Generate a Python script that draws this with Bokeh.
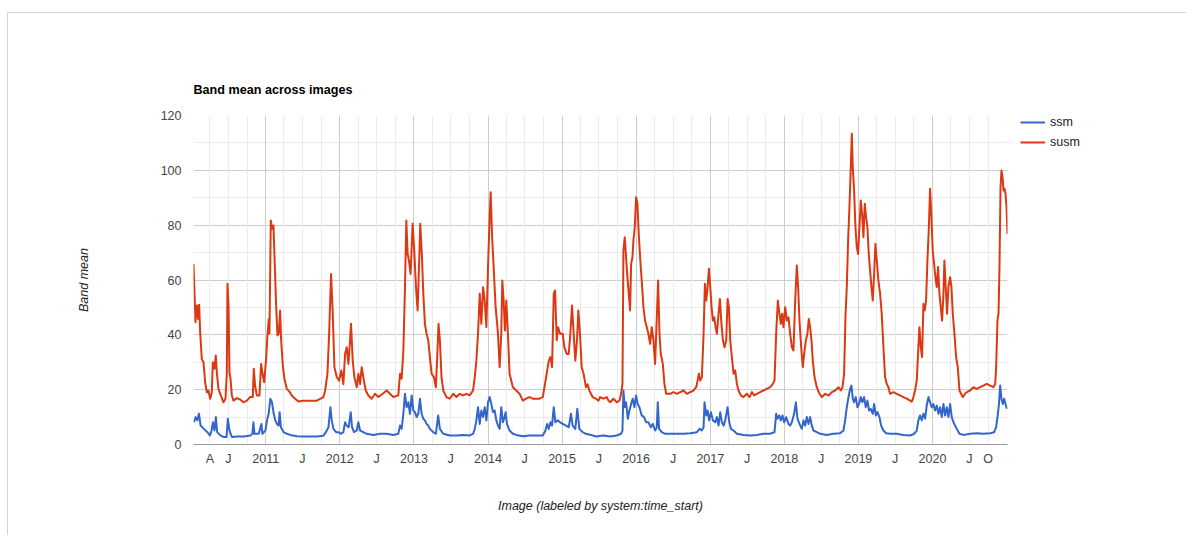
import datetime as dt
from bokeh.plotting import figure
from bokeh.models import (FixedTicker, Grid, Legend, LegendItem, Range1d,
                          ColumnDataSource)
from bokeh.embed import file_html
from bokeh.resources import INLINE

# ---------------- data (decimal years, band means) ----------------
susm_t = [
    2010.025, 2010.052, 2010.070, 2010.088, 2010.101, 2010.115, 2010.137, 2010.160, 2010.182, 2010.205,
    2010.227, 2010.250, 2010.272, 2010.286, 2010.308, 2010.326, 2010.340, 2010.362, 2010.394, 2010.430,
    2010.457, 2010.475, 2010.484, 2010.498, 2010.511, 2010.525, 2010.543, 2010.565, 2010.610, 2010.655,
    2010.700, 2010.745, 2010.790, 2010.826, 2010.839, 2010.857, 2010.880, 2010.916, 2010.938, 2010.961,
    2010.979, 2011.006, 2011.024, 2011.042, 2011.051, 2011.069, 2011.087, 2011.105, 2011.123, 2011.141,
    2011.159, 2011.177, 2011.195, 2011.208, 2011.231, 2011.253, 2011.285, 2011.321, 2011.352, 2011.397,
    2011.442, 2011.510, 2011.600, 2011.690, 2011.780,
    2011.803, 2011.834, 2011.857, 2011.883, 2011.906, 2011.928, 2011.960, 2011.991, 2012.022, 2012.049,
    2012.072, 2012.094, 2012.117, 2012.139, 2012.152, 2012.175, 2012.197, 2012.229, 2012.251, 2012.274,
    2012.296, 2012.318, 2012.350, 2012.386, 2012.430, 2012.475, 2012.520, 2012.587, 2012.632, 2012.677,
    2012.722, 2012.789, 2012.812, 2012.834, 2012.857, 2012.879, 2012.897, 2012.915, 2012.933, 2012.955,
    2012.982, 2013.004, 2013.027, 2013.049, 2013.072, 2013.085, 2013.108, 2013.126, 2013.148, 2013.170,
    2013.193, 2013.215, 2013.238, 2013.269, 2013.296, 2013.314, 2013.332, 2013.350, 2013.372, 2013.395,
    2013.439, 2013.484, 2013.529, 2013.574, 2013.619, 2013.664, 2013.709, 2013.753, 2013.798, 2013.821,
    2013.843, 2013.865, 2013.888, 2013.910, 2013.933, 2013.955, 2013.978, 2014.000, 2014.022, 2014.036,
    2014.054, 2014.076, 2014.103, 2014.135, 2014.157, 2014.179, 2014.193, 2014.211, 2014.229, 2014.247,
    2014.269, 2014.291, 2014.336, 2014.381, 2014.426, 2014.471, 2014.516, 2014.561, 2014.605, 2014.650,
    2014.695, 2014.740, 2014.785, 2014.821, 2014.843, 2014.865, 2014.888, 2014.906, 2014.928, 2014.946,
    2014.973, 2015.009, 2015.031, 2015.063, 2015.090, 2015.112, 2015.135, 2015.157, 2015.179, 2015.202,
    2015.220, 2015.242, 2015.265, 2015.291, 2015.323, 2015.345, 2015.368, 2015.413, 2015.457, 2015.493,
    2015.514, 2015.559, 2015.604, 2015.627, 2015.649, 2015.694, 2015.739, 2015.775, 2015.798, 2015.816,
    2015.829, 2015.847, 2015.865, 2015.883, 2015.901, 2015.919, 2015.933, 2015.951, 2015.964, 2015.982,
    2016.000, 2016.018, 2016.036, 2016.054, 2016.076, 2016.099, 2016.121, 2016.144, 2016.166, 2016.189,
    2016.211, 2016.234, 2016.256, 2016.279, 2016.297, 2016.315, 2016.333, 2016.360, 2016.382, 2016.405,
    2016.459, 2016.504, 2016.549, 2016.594, 2016.639, 2016.684, 2016.729, 2016.774, 2016.810, 2016.828,
    2016.846, 2016.864, 2016.886, 2016.909, 2016.927, 2016.945, 2016.963, 2016.981, 2016.999, 2017.017,
    2017.035, 2017.053, 2017.071, 2017.089, 2017.111, 2017.129, 2017.147, 2017.170, 2017.192, 2017.215,
    2017.233, 2017.251, 2017.269, 2017.291, 2017.314, 2017.336, 2017.359, 2017.381, 2017.412, 2017.448,
    2017.493, 2017.529, 2017.561, 2017.592, 2017.628, 2017.673, 2017.718, 2017.763, 2017.808, 2017.844,
    2017.867, 2017.889, 2017.912, 2017.934, 2017.952, 2017.970, 2017.988, 2018.011, 2018.033, 2018.056,
    2018.078, 2018.101, 2018.123, 2018.146, 2018.168, 2018.186, 2018.204, 2018.227, 2018.249, 2018.267,
    2018.290, 2018.312, 2018.330, 2018.348, 2018.366, 2018.384, 2018.407, 2018.438, 2018.474, 2018.506,
    2018.551, 2018.596, 2018.641, 2018.686, 2018.731, 2018.762, 2018.785, 2018.807, 2018.825, 2018.843,
    2018.861, 2018.879, 2018.897, 2018.911, 2018.924, 2018.942, 2018.960, 2018.978, 2018.996, 2019.014,
    2019.032, 2019.050, 2019.068, 2019.086, 2019.104, 2019.122, 2019.140, 2019.158, 2019.176, 2019.194,
    2019.212, 2019.230, 2019.248, 2019.270, 2019.293, 2019.315, 2019.338, 2019.360, 2019.383, 2019.405,
    2019.428, 2019.473, 2019.518, 2019.563, 2019.608, 2019.653, 2019.698, 2019.720, 2019.743, 2019.765,
    2019.788, 2019.810, 2019.824, 2019.842, 2019.860, 2019.878, 2019.896, 2019.914, 2019.932, 2019.950,
    2019.968, 2019.986, 2020.004, 2020.022, 2020.040, 2020.058, 2020.076, 2020.094, 2020.112, 2020.130,
    2020.148, 2020.161, 2020.179, 2020.197, 2020.215, 2020.238, 2020.256, 2020.274, 2020.296, 2020.319,
    2020.341, 2020.364, 2020.386, 2020.408, 2020.440, 2020.462, 2020.507, 2020.552, 2020.597, 2020.642,
    2020.687, 2020.732, 2020.777, 2020.822, 2020.845, 2020.858, 2020.876, 2020.890, 2020.903, 2020.917,
    2020.930, 2020.944, 2020.957, 2020.971, 2020.984, 2020.998, 2021.011,
]
susm = [
    65.9, 44.6, 50.7, 45.8, 51.0, 41.0, 31.2, 30.0, 22.7, 19.0,
    19.7, 16.7, 19.0, 30.0, 27.6, 32.5, 26.4, 20.3, 17.9, 15.4,
    16.7, 26.0, 58.6, 50.7, 26.4, 24.0, 17.9, 16.0, 16.9, 16.4,
    15.4, 16.0, 17.3, 17.3, 27.6, 21.5, 17.9, 17.9, 29.4, 25.2,
    22.7, 31.2, 39.8, 45.8, 40.5, 81.7, 78.7, 79.9, 65.3, 50.7,
    39.8, 40.5, 48.9, 38.5, 28.8, 24.0, 20.3, 19.3, 17.9, 16.7,
    15.7, 16.0, 16.0, 16.0, 17.3,
    19.7, 25.8, 40.4, 62.2, 47.7, 28.2, 24.6, 23.3, 27.0, 22.0,
    33.0, 35.5, 29.4, 38.0, 44.0, 30.6, 24.6, 20.9, 25.8, 22.0,
    28.2, 24.6, 19.7, 17.9, 16.7, 18.5, 17.3, 18.7, 19.7, 18.5,
    17.3, 17.9, 25.8, 24.0, 34.0, 57.4, 81.7, 69.5, 67.0, 62.2,
    80.5, 70.8, 57.4, 48.9, 68.3, 80.5, 68.3, 55.0, 44.0, 40.4,
    38.0, 31.9, 25.8, 24.6, 20.9, 31.9, 44.0, 38.0, 24.6, 19.7,
    17.3, 16.7, 18.5, 17.3, 18.5, 17.9, 18.5, 17.9, 19.7, 24.6,
    30.6, 40.4, 55.0, 44.0, 57.4, 52.5, 42.8, 64.7, 82.9, 92.0,
    76.8, 64.7, 50.0, 40.4, 28.2, 40.4, 59.8, 52.5, 41.6, 52.5,
    40.4, 25.8, 20.9, 19.7, 18.5, 16.0, 16.7, 17.3, 16.7, 16.7,
    16.7, 17.3, 24.6, 30.6, 31.9, 28.2, 55.0, 56.2, 38.0, 42.8,
    40.4, 40.4, 35.5, 33.0, 33.0, 40.4, 50.7, 40.4, 30.6, 38.0,
    48.9, 40.4, 28.2, 25.8, 20.9, 22.0, 19.7, 17.3, 16.7, 16.0,
    17.3, 16.7, 17.3, 16.0, 15.4, 16.7, 15.4, 16.0, 18.5, 22.1,
    70.8, 75.6, 68.3, 61.0, 55.0, 48.9, 65.9, 68.3, 74.4, 79.3,
    90.2, 87.8, 76.8, 68.3, 59.8, 50.1, 45.2, 42.8, 40.4, 36.7,
    42.8, 38.0, 29.4, 46.4, 59.8, 40.4, 33.0, 29.4, 22.1, 18.5,
    18.5, 19.1, 18.5, 19.1, 19.7, 18.5, 19.1, 19.7, 20.9, 23.3,
    25.8, 23.3, 24.6, 40.4, 58.6, 52.5, 57.4, 64.1, 57.4, 50.1,
    45.2, 46.4, 42.8, 40.4, 47.7, 53.1, 45.2, 38.0, 35.5, 38.0,
    53.1, 50.1, 38.0, 31.9, 25.8, 27.0, 22.1, 19.7, 17.9, 17.3,
    18.5, 17.3, 19.1, 17.9, 18.5, 19.1, 19.7, 20.3, 20.9, 22.1,
    23.3, 40.4, 52.5, 47.7, 44.0, 47.7, 42.8, 50.1, 45.2, 46.4,
    40.4, 35.5, 34.3, 52.5, 65.3, 57.4, 45.2, 35.5, 28.2, 33.0,
    38.0, 40.4, 45.8, 42.8, 38.0, 30.6, 24.6, 20.9, 18.5, 17.3,
    18.5, 17.9, 19.1, 19.7, 20.9, 19.7, 20.9, 25.8, 46.4, 57.4,
    74.4, 86.6, 101.0, 113.3, 101.0, 92.6, 79.3, 72.0, 69.5, 79.3,
    89.0, 84.1, 75.6, 87.8, 82.9, 79.3, 69.5, 63.5, 57.4, 52.5,
    62.2, 73.2, 67.1, 59.8, 55.0, 47.7, 35.5, 24.6, 22.1, 20.9,
    18.5, 19.1, 18.5, 17.9, 17.3, 16.7, 16.0, 15.6, 17.3, 19.7,
    23.3, 35.5, 42.8, 35.5, 31.9, 51.3, 48.9, 52.5, 67.1, 78.0,
    93.3, 82.9, 70.8, 65.9, 61.0, 57.4, 64.7, 55.0, 50.1, 45.2,
    55.0, 67.1, 57.4, 47.7, 57.4, 61.0, 57.4, 47.7, 40.4, 31.9,
    28.2, 19.7, 18.5, 17.3, 18.5, 19.1, 19.7, 20.9, 20.3, 20.9,
    21.5, 22.1, 21.5, 20.9, 22.1, 28.2, 45.2, 47.7, 64.7, 93.9,
    99.9, 97.5, 92.6, 93.3, 91.4, 86.6, 76.8,
]

ssm_t = [
    2010.031, 2010.054, 2010.076, 2010.099, 2010.121, 2010.166, 2010.211, 2010.247, 2010.269, 2010.287,
    2010.309, 2010.327, 2010.345, 2010.390, 2010.435, 2010.471, 2010.489, 2010.507, 2010.525, 2010.547,
    2010.614, 2010.704, 2010.794, 2010.821, 2010.834, 2010.848, 2010.906, 2010.942, 2010.955, 2010.996,
    2011.018, 2011.040, 2011.063, 2011.085, 2011.108, 2011.130, 2011.152, 2011.175, 2011.188, 2011.206,
    2011.242, 2011.287, 2011.332, 2011.422, 2011.511, 2011.601, 2011.691, 2011.780, 2011.812, 2011.848,
    2011.874, 2011.892, 2011.915, 2011.951, 2011.982, 2012.013, 2012.049, 2012.072, 2012.094, 2012.121,
    2012.148, 2012.166, 2012.193, 2012.229, 2012.251, 2012.274, 2012.318, 2012.363, 2012.453, 2012.543,
    2012.632, 2012.722, 2012.789, 2012.812, 2012.834, 2012.857, 2012.879, 2012.901, 2012.924, 2012.946,
    2012.969, 2012.991, 2013.013, 2013.036, 2013.058, 2013.081, 2013.103, 2013.126, 2013.148, 2013.170,
    2013.193, 2013.215, 2013.260, 2013.296, 2013.327, 2013.350, 2013.395, 2013.484, 2013.574, 2013.664,
    2013.753, 2013.798, 2013.821, 2013.843, 2013.865, 2013.888, 2013.910, 2013.933, 2013.955, 2013.978,
    2014.000, 2014.022, 2014.045, 2014.067, 2014.090, 2014.112, 2014.135, 2014.157, 2014.179, 2014.202,
    2014.224, 2014.238, 2014.256, 2014.291, 2014.336, 2014.381, 2014.471, 2014.561, 2014.650, 2014.740,
    2014.776, 2014.798, 2014.821, 2014.843, 2014.865, 2014.888, 2014.910, 2014.942, 2014.973, 2015.009,
    2015.054, 2015.090, 2015.121, 2015.143, 2015.179, 2015.206, 2015.233, 2015.278, 2015.323, 2015.390,
    2015.457, 2015.559, 2015.649, 2015.739, 2015.798, 2015.816, 2015.829, 2015.847, 2015.865, 2015.888,
    2015.910, 2015.933, 2015.955, 2015.978, 2016.000, 2016.022, 2016.045, 2016.076, 2016.108, 2016.135,
    2016.166, 2016.198, 2016.225, 2016.256, 2016.279, 2016.292, 2016.310, 2016.346, 2016.391, 2016.459,
    2016.549, 2016.639, 2016.729, 2016.819, 2016.855, 2016.886, 2016.909, 2016.922, 2016.945, 2016.963,
    2016.985, 2017.008, 2017.035, 2017.066, 2017.089, 2017.111, 2017.134, 2017.156, 2017.179, 2017.201,
    2017.233, 2017.256, 2017.278, 2017.314, 2017.359, 2017.448, 2017.538, 2017.628, 2017.718, 2017.808,
    2017.867, 2017.889, 2017.907, 2017.930, 2017.952, 2017.975, 2017.997, 2018.024, 2018.056, 2018.078,
    2018.101, 2018.132, 2018.155, 2018.177, 2018.204, 2018.236, 2018.258, 2018.281, 2018.303, 2018.326,
    2018.348, 2018.371, 2018.393, 2018.438, 2018.483, 2018.573, 2018.663, 2018.753, 2018.798, 2018.821,
    2018.843, 2018.866, 2018.888, 2018.906, 2018.924, 2018.942, 2018.964, 2018.987, 2019.009, 2019.032,
    2019.054, 2019.077, 2019.099, 2019.122, 2019.144, 2019.167, 2019.194, 2019.212, 2019.235, 2019.257,
    2019.284, 2019.307, 2019.338, 2019.374, 2019.428, 2019.518, 2019.608, 2019.698, 2019.752, 2019.788,
    2019.810, 2019.833, 2019.855, 2019.878, 2019.901, 2019.923, 2019.946, 2019.968, 2019.990, 2020.013,
    2020.035, 2020.058, 2020.081, 2020.103, 2020.126, 2020.148, 2020.170, 2020.193, 2020.215, 2020.238,
    2020.260, 2020.283, 2020.305, 2020.328, 2020.364, 2020.418, 2020.507, 2020.597, 2020.687, 2020.777,
    2020.831, 2020.858, 2020.876, 2020.894, 2020.912, 2020.930, 2020.948, 2020.966, 2020.984, 2021.002,
]
ssm = [
    8.1, 10.0, 8.8, 11.2, 6.9, 5.7, 4.5, 3.3, 5.1, 8.1,
    5.1, 10.0, 4.5, 3.3, 2.7, 2.7, 9.4, 5.7, 3.9, 2.7,
    2.9, 2.9, 3.3, 3.9, 8.1, 3.9, 3.9, 7.5, 3.9, 5.1,
    8.8, 11.2, 16.7, 15.4, 11.2, 8.8, 7.5, 6.9, 11.8, 6.3,
    4.5, 3.9, 3.5, 3.0, 2.9, 2.9, 2.9, 3.2, 4.5, 6.3,
    13.6, 8.8, 5.7, 4.5, 4.5, 3.9, 4.5, 8.1, 6.9, 6.3,
    11.8, 6.3, 4.5, 5.1, 8.1, 5.1, 4.5, 3.9, 3.5, 3.9,
    3.9, 3.5, 3.9, 6.9, 5.7, 11.2, 18.5, 13.6, 15.4, 11.2,
    17.9, 12.4, 11.8, 10.0, 11.2, 16.7, 11.2, 9.4, 8.8, 7.5,
    6.9, 5.7, 4.5, 3.9, 10.6, 5.7, 3.9, 3.3, 3.3, 3.5,
    3.3, 3.9, 5.7, 8.8, 13.6, 7.5, 12.4, 10.0, 13.6, 8.8,
    15.4, 17.3, 14.8, 11.8, 12.4, 8.8, 6.9, 5.7, 13.6, 8.1,
    10.0, 11.8, 7.5, 5.1, 3.9, 3.5, 3.0, 3.3, 3.3, 3.3,
    5.1, 7.5, 5.7, 8.1, 6.9, 13.6, 8.1, 8.8, 8.1, 7.5,
    6.9, 6.3, 11.2, 6.9, 5.7, 13.0, 5.7, 4.5, 3.9, 3.5,
    2.9, 3.3, 2.9, 3.3, 3.9, 5.1, 19.7, 13.6, 15.4, 9.4,
    12.4, 14.8, 16.7, 13.6, 17.9, 14.8, 13.6, 10.6, 10.0, 8.1,
    8.1, 6.3, 7.5, 5.1, 6.3, 15.4, 5.7, 4.5, 3.9, 3.9,
    3.9, 3.9, 4.1, 4.5, 5.7, 5.1, 6.3, 15.4, 10.6, 12.4,
    8.8, 11.8, 8.8, 8.1, 10.0, 6.9, 11.8, 8.1, 6.9, 8.8,
    13.6, 8.1, 5.7, 5.1, 3.9, 3.5, 3.3, 3.5, 3.9, 3.9,
    4.5, 11.2, 9.4, 10.6, 8.8, 10.6, 8.1, 10.0, 7.5, 6.9,
    8.1, 11.2, 15.4, 9.4, 7.5, 5.7, 8.8, 6.9, 10.0, 7.5,
    10.0, 6.9, 5.1, 4.5, 3.9, 3.5, 3.9, 4.1, 5.1, 8.8,
    13.6, 17.3, 20.3, 21.5, 16.7, 15.4, 17.3, 13.6, 14.8, 17.3,
    15.4, 17.3, 13.6, 16.0, 12.4, 13.0, 11.2, 14.8, 10.6, 11.8,
    10.0, 6.9, 5.1, 4.1, 3.9, 3.9, 3.5, 3.3, 3.9, 5.1,
    8.8, 10.6, 8.8, 11.2, 9.4, 14.2, 17.3, 15.4, 13.6, 14.8,
    12.4, 14.2, 11.2, 13.6, 10.0, 14.8, 10.6, 13.6, 10.0, 14.8,
    10.0, 8.1, 6.9, 5.7, 3.9, 3.5, 3.9, 4.1, 3.9, 4.1,
    4.5, 6.3, 10.0, 14.2, 21.5, 16.7, 14.8, 16.7, 14.8, 13.0,
]

series_names = ["ssm", "susm"]
series_colors = ["#3366cc", "#dc3912"]

tick_dates = ["2010-04-01", "2010-07-01"] + \
    [d for y in range(2011, 2021) for d in (f"{y}-01-01", f"{y}-07-01")] + ["2020-10-01"]
tick_labels = ["A", "J"] + [l for y in range(2011, 2021) for l in (str(y), "J")] + ["O"]
quarter_dates = [f"{y}-{m:02d}-01" for y in range(2010, 2021) for m in (1, 4, 7, 10)
                 if f"{y}-{m:02d}-01" >= "2010-04-01"]
year_dates = [f"{y}-01-01" for y in range(2011, 2021)]
y_ticks = [0, 20, 40, 60, 80, 100, 120]
y_minor = [10, 30, 50, 70, 90, 110]

# ---------------- helpers ----------------
EPOCH = dt.datetime(1970, 1, 1)


def dec_to_dt(y):
    yi = int(y)
    s = dt.datetime(yi, 1, 1)
    e = dt.datetime(yi + 1, 1, 1)
    return s + (e - s) * (y - yi)


def ms(d):
    if isinstance(d, str):
        d = dt.datetime.strptime(d, "%Y-%m-%d")
    return int((d - EPOCH).total_seconds() * 1000)


FONT = "Liberation Sans"

ssm_x = [dec_to_dt(t) for t in ssm_t]
susm_x = [dec_to_dt(t) for t in susm_t]

x_start = min(ssm_x[0], susm_x[0])
x_end = max(ssm_x[-1], susm_x[-1])

p = figure(
    x_axis_type="datetime",
    frame_width=814, frame_height=329,
    min_border_left=185, min_border_right=169,
    min_border_top=102, min_border_bottom=92,
    x_range=Range1d(x_start, x_end), y_range=Range1d(0, 120),
    output_backend="svg", toolbar_location=None,
    title="Band mean across images",
    background_fill_color="white", border_fill_color="white",
    styles={"margin-left": "8px", "margin-top": "13px",
            "box-shadow": "-1px -1px 0 0 #d4d4d4, 1px -1px 0 0 #d4d4d4"},
)
p.outline_line_color = None

# title
p.title.text_font = FONT
p.title.text_font_size = "12.6px"
p.title.text_font_style = "bold"
p.title.text_color = "#000000"
p.title.align = "left"
p.title.standoff = 37

# x axis
p.xaxis.ticker = FixedTicker(ticks=[ms(d) for d in tick_dates])
p.xaxis.major_label_overrides = {ms(d): l for d, l in zip(tick_dates, tick_labels)}
p.xaxis.major_tick_line_color = None
p.xaxis.major_tick_out = 0
p.xaxis.major_tick_in = 0
p.xaxis.minor_tick_line_color = None
p.xaxis.minor_tick_out = 0
p.xaxis.axis_line_color = "#9a9a9a"
p.xaxis.axis_line_width = 1
p.xaxis.major_label_text_font = FONT
p.xaxis.major_label_text_font_size = "12.5px"
p.xaxis.major_label_text_color = "#444444"
p.xaxis.major_label_standoff = 7
p.xaxis.axis_label = "Image (labeled by system:time_start)"
p.xaxis.axis_label_text_font = FONT
p.xaxis.axis_label_text_font_size = "12.5px"
p.xaxis.axis_label_text_font_style = "italic"
p.xaxis.axis_label_text_color = "#222222"
p.xaxis.axis_label_standoff = 30

# y axis
p.yaxis.ticker = FixedTicker(ticks=y_ticks, minor_ticks=y_minor)
p.yaxis.major_tick_line_color = None
p.yaxis.major_tick_out = 0
p.yaxis.major_tick_in = 0
p.yaxis.minor_tick_line_color = None
p.yaxis.minor_tick_out = 0
p.yaxis.axis_line_color = None
p.yaxis.major_label_text_font = FONT
p.yaxis.major_label_text_font_size = "12.5px"
p.yaxis.major_label_text_color = "#444444"
p.yaxis.major_label_standoff = 12
p.yaxis.axis_label = "Band mean"
p.yaxis.axis_label_text_font = FONT
p.yaxis.axis_label_text_font_size = "12.5px"
p.yaxis.axis_label_text_font_style = "italic"
p.yaxis.axis_label_text_color = "#222222"
p.yaxis.axis_label_standoff = 67

# grids
p.xgrid.grid_line_color = None
p.ygrid.grid_line_color = "#cccccc"
p.ygrid.minor_grid_line_color = "#ebebeb"
p.add_layout(Grid(dimension=0, ticker=FixedTicker(ticks=[ms(d) for d in quarter_dates]),
                  grid_line_color="#ebebeb"))
p.add_layout(Grid(dimension=0, ticker=FixedTicker(ticks=[ms(d) for d in year_dates]),
                  grid_line_color="#cccccc"))

# lines
renderers = []
for name, color, xs, ys in zip(series_names, series_colors, [ssm_x, susm_x], [ssm, susm]):
    src = ColumnDataSource(dict(x=xs, y=ys))
    r = p.line("x", "y", source=src, line_color=color, line_width=2,
               line_join="round")
    renderers.append(r)

legend = Legend(
    items=[LegendItem(label=n, renderers=[r]) for n, r in zip(series_names, renderers)],
    location=(13, 294), margin=0, padding=0,
    glyph_width=25, glyph_height=16, label_height=16, spacing=4,
    label_standoff=5, border_line_color=None, background_fill_alpha=0,
    label_text_font=FONT, label_text_font_size="12.5px", label_text_color="#222222",
)
p.add_layout(legend, "right")

open("out.html", "w").write(file_html(p, INLINE))
